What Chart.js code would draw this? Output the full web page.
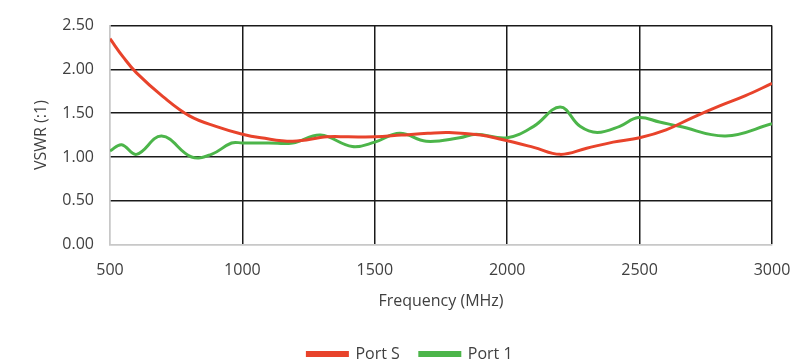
<!DOCTYPE html>
<html>
<head>
<meta charset="utf-8">
<script src="https://cdn.jsdelivr.net/npm/chart.js@4/dist/chart.umd.min.js"></script>
<style>
  html, body { margin: 0; padding: 0; background: #fff; }
  #wrap { width: 793px; height: 362px; }
</style>
</head>
<body>
<div id="wrap"><canvas id="vswrChart" width="793" height="362"></canvas></div>
<script>
// Port S: sampled VSWR across the band
const portSFreq = [500, 550, 600, 700, 800, 900, 1000, 1070, 1190, 1320, 1400, 1500, 1600, 1700, 1780, 1900, 1980, 2100, 2200, 2300, 2400, 2500, 2600, 2700, 2800, 2900, 3000];
const portSVswr = [2.35, 2.14, 1.96, 1.69, 1.47, 1.35, 1.26, 1.22, 1.18, 1.23, 1.23, 1.23, 1.25, 1.27, 1.28, 1.25, 1.20, 1.11, 1.03, 1.10, 1.17, 1.22, 1.31, 1.45, 1.58, 1.70, 1.84];

// Port 1: sampled VSWR across the band
const port1Freq = [500, 544, 600, 695, 808, 883, 959, 1000, 1100, 1190, 1295, 1415, 1500, 1594, 1694, 1820, 1882, 2000, 2100, 2200, 2275, 2340, 2425, 2495, 2575, 2650, 2825, 3000];
const port1Vswr = [1.07, 1.14, 1.03, 1.24, 1.00, 1.03, 1.16, 1.16, 1.16, 1.16, 1.25, 1.12, 1.17, 1.27, 1.18, 1.22, 1.26, 1.22, 1.35, 1.57, 1.35, 1.28, 1.35, 1.45, 1.40, 1.35, 1.24, 1.38];

const xTicks = [500, 1000, 1500, 2000, 2500, 3000];
const yTicks = [0, 0.5, 1, 1.5, 2, 2.5];

const toPoints = (xs, ys) => xs.map((x, i) => ({ x: x, y: ys[i] }));

const textColor = '#404040';
const gridDark = '#1a1a1a';
const axisLight = '#c8c8c8';
const font = { family: '"Open Sans", sans-serif', size: 16 };

// nudge the legend down and to the right of where Chart.js centres it
const legendShift = {
  id: 'legendShift',
  afterLayout(chart) {
    const lg = chart.legend;
    lg.top += 10;
    lg.bottom += 10;
    lg.left += 24;
    lg.right += 24;
  }
};

const ctx = document.getElementById('vswrChart').getContext('2d');
const chart = new Chart(ctx, {
  type: 'line',
  data: {
    datasets: [
      {
        label: 'Port S',
        data: toPoints(portSFreq, portSVswr),
        borderColor: '#e8432b',
        backgroundColor: '#e8432b',
        borderWidth: 3,
        pointRadius: 0,
        tension: 0.4,
        fill: false
      },
      {
        label: 'Port 1',
        data: toPoints(port1Freq, port1Vswr),
        borderColor: '#4cb54a',
        backgroundColor: '#4cb54a',
        borderWidth: 3,
        pointRadius: 0,
        tension: 0.4,
        fill: false
      }
    ]
  },
  plugins: [legendShift],
  options: {
    responsive: false,
    animation: false,
    layout: { padding: { top: 22, right: 21, left: 0, bottom: 0 } },
    plugins: {
      legend: {
        position: 'bottom',
        labels: {
          color: textColor,
          font: font,
          boxWidth: 40,
          boxHeight: 3,
          padding: 20
        }
      },
      tooltip: { enabled: false }
    },
    scales: {
      x: {
        type: 'linear',
        min: 500,
        max: 3000,
        afterBuildTicks: (scale) => { scale.ticks = xTicks.map(v => ({ value: v })); },
        afterFit: (scale) => { scale.paddingLeft = 0; scale.paddingRight = 0; },
        ticks: {
          color: textColor,
          font: font,
          padding: 16,
          callback: (v) => String(v)
        },
        grid: {
          drawTicks: false,
          lineWidth: 1.5,
          color: (c) => (c.index === 0 ? axisLight : gridDark)
        },
        border: { color: axisLight, width: 1.5 },
        title: {
          display: true,
          text: 'Frequency (MHz)',
          color: textColor,
          font: font,
          padding: { top: -4, bottom: 5 }
        }
      },
      y: {
        min: 0,
        max: 2.5,
        afterBuildTicks: (scale) => { scale.ticks = yTicks.map(v => ({ value: v })); },
        afterFit: (scale) => { scale.width = 110; },
        ticks: {
          color: textColor,
          font: font,
          padding: 16,
          callback: (v) => Number(v).toFixed(2)
        },
        grid: {
          drawTicks: false,
          lineWidth: 1.5,
          color: (c) => (c.index === 0 ? axisLight : gridDark)
        },
        border: { color: axisLight, width: 1.5 },
        title: {
          display: true,
          text: 'VSWR (:1)',
          color: textColor,
          font: font,
          padding: { top: 32, bottom: 0 }
        }
      }
    }
  }
});
</script>
</body>
</html>
